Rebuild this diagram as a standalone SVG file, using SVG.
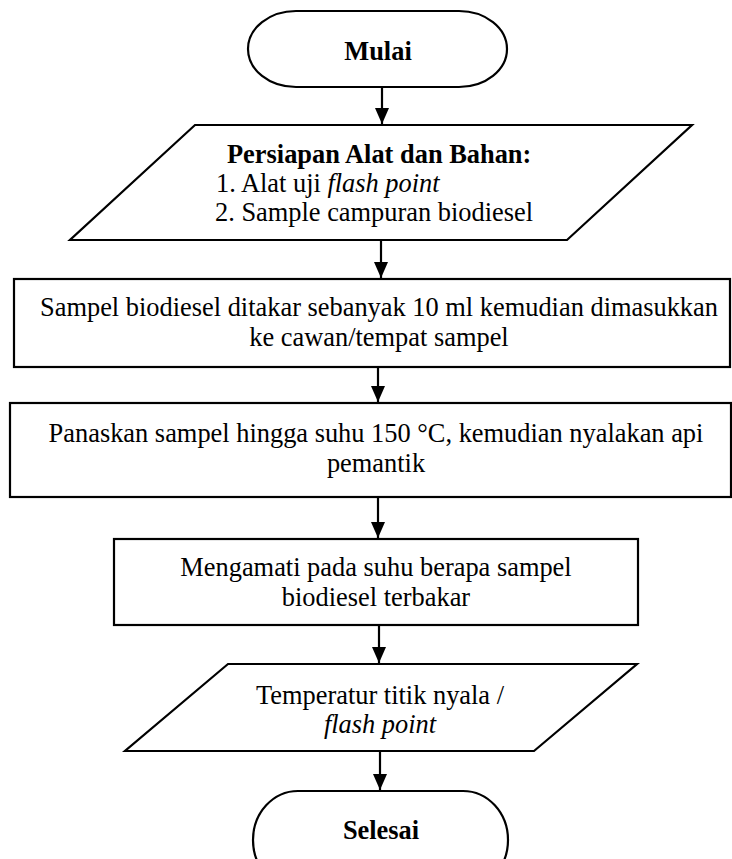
<svg xmlns="http://www.w3.org/2000/svg" width="732" height="859" viewBox="0 0 732 859">
  <style>
    .shape { fill: #ffffff; stroke: #000000; stroke-width: 2.2; }
    .txt { font-family: "Liberation Serif", "Times New Roman", serif; font-size: 26.4px; fill: #000000; }
    .c { text-anchor: middle; }
    .b { font-weight: bold; }
    .i { font-style: italic; }
    .conn { stroke: #000000; stroke-width: 2.2; fill: none; marker-end: url(#arrow); }
  </style>
  <defs>
    <marker id="arrow" viewBox="0 0 16 14" refX="16" refY="7" markerWidth="16" markerHeight="14" markerUnits="userSpaceOnUse" orient="auto">
      <path d="M0,0 L16,7 L0,14 Z" fill="#000000"/>
    </marker>
  </defs>
  <rect width="732" height="859" fill="#ffffff"/>

  <!-- start terminator -->
  <g id="mulai">
    <path class="shape" d="M296,11 H459 A48,38 0 0 1 459,87 H296 A48,38 0 0 1 296,11 Z"/>
    <text class="txt c b" x="378" y="60">Mulai</text>
  </g>

  <!-- input: tools and materials -->
  <g id="persiapan">
    <polygon class="shape" points="195,125 692,125 567,240 70,240"/>
    <text class="txt b" x="227" y="163">Persiapan Alat dan Bahan:</text>
    <text class="txt" x="216" y="192">1. Alat uji <tspan class="i">flash point</tspan></text>
    <text class="txt" x="215" y="221">2. Sample campuran biodiesel</text>
  </g>

  <!-- process: measure sample -->
  <g id="takar">
    <rect class="shape" x="14" y="279" width="716" height="88"/>
    <text class="txt c" x="379" y="316">Sampel biodiesel ditakar sebanyak 10 ml kemudian dimasukkan</text>
    <text class="txt c" x="379" y="346">ke cawan/tempat sampel</text>
  </g>

  <!-- process: heat sample -->
  <g id="panaskan">
    <rect class="shape" x="10" y="403" width="721" height="94"/>
    <text class="txt c" x="376" y="442">Panaskan sampel hingga suhu 150 °C, kemudian nyalakan api</text>
    <text class="txt c" x="376" y="472">pemantik</text>
  </g>

  <!-- process: observe -->
  <g id="mengamati">
    <rect class="shape" x="114" y="539" width="524" height="86"/>
    <text class="txt c" x="376" y="576">Mengamati pada suhu berapa sampel</text>
    <text class="txt c" x="376" y="606">biodiesel terbakar</text>
  </g>

  <!-- output: flash point temperature -->
  <g id="temperatur">
    <polygon class="shape" points="228,664 637,664 534,751 125,751"/>
    <text class="txt c" x="380" y="704">Temperatur titik nyala /</text>
    <text class="txt c i" x="380" y="733">flash point</text>
  </g>

  <!-- end terminator -->
  <g id="selesai">
    <path class="shape" d="M298,791 H463 A45,49 0 0 1 463,889 H298 A45,49 0 0 1 298,791 Z"/>
    <text class="txt c b" x="381" y="839">Selesai</text>
  </g>

  <!-- connectors -->
  <g id="connectors">
    <line class="conn" x1="382" y1="88" x2="382" y2="124"/>
    <line class="conn" x1="381" y1="241" x2="381" y2="278"/>
    <line class="conn" x1="378" y1="368" x2="378" y2="402"/>
    <line class="conn" x1="378" y1="498" x2="378" y2="538"/>
    <line class="conn" x1="379" y1="626" x2="379" y2="663"/>
    <line class="conn" x1="380" y1="752" x2="380" y2="790"/>
  </g>
</svg>
